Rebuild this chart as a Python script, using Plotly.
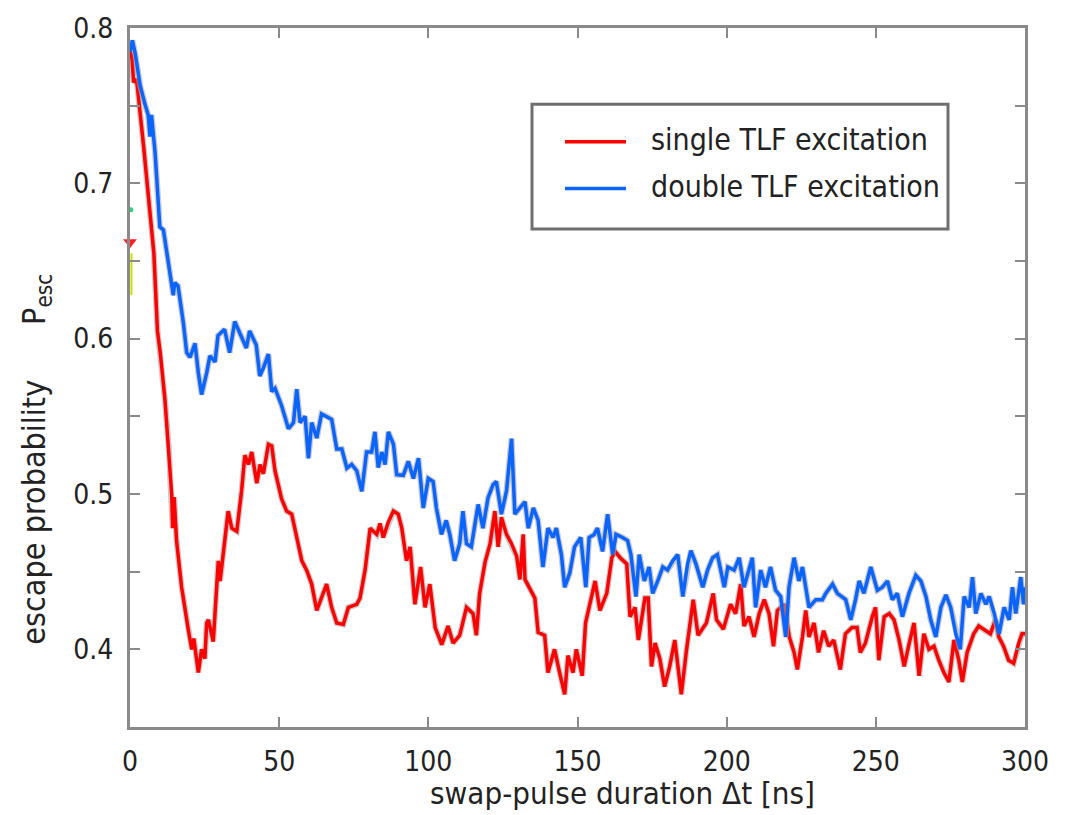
import plotly.graph_objects as go

# ---------------- data ----------------
single_t = [0, 0.7, 1.2, 2.2, 4.5, 6.5, 8.0, 9.2, 10.2, 11.7, 13.0, 13.97, 14.3, 14.8, 15.6, 17.3, 19.55, 20.7, 21.4, 22.9,
            24.0, 25.1, 25.7, 26.3, 27.9, 29.6, 30.2, 31.1, 32.9, 34.1, 35.8, 37.4, 38.5, 39.7, 40.8, 42.5, 43.6, 44.7, 46.4, 47.5,
            48.6, 50.8, 52.5, 54.2, 57.6, 59.2, 60.9, 62.6, 65.9, 67.6, 69.3, 71.5, 73.2, 76.0, 77.1, 78.8, 80.5, 82.7, 83.8, 84.9,
            86.6, 88.3, 89.9, 91.1, 92.7, 93.9, 95.5, 97.4, 98.9, 100.5, 102.3, 104.5, 106.6, 108.3, 110.5, 112.8, 115.0, 116.1, 117.2, 119.0,
            120.7, 122.3, 123.4, 124.5, 126.2, 127.9, 129.6, 130.7, 131.8, 132.4, 133.5, 135.7, 136.8, 139.0, 140.1, 142.3, 144.0, 145.7, 146.8, 148.5,
            149.6, 151.6, 152.7, 155.9, 157.5, 159.8, 161.5, 162.6, 164.3, 166.5, 167.6, 169.3, 170.4, 172.6, 173.7, 174.8, 176.0, 177.6, 179.2, 180.9,
            182.6, 184.8, 186.5, 188.8, 190.4, 193.2, 195.5, 196.6, 198.9, 201.3, 203.0, 204.7, 205.8, 207.5, 209.2, 210.9, 212.6, 214.2, 215.7, 217.0,
            219.3, 221.0, 222.6, 223.7, 225.4, 226.5, 227.6, 229.3, 230.8, 232.5, 234.2, 235.9, 238.1, 239.8, 242.0, 243.7, 244.8, 246.5, 248.8, 249.9,
            251.0, 252.8, 254.5, 256.1, 257.8, 259.5, 261.2, 262.8, 264.5, 266.1, 267.8, 269.5, 271.1, 272.8, 274.5, 276.2, 277.8, 279.0, 280.6, 282.8,
            284.5, 286.7, 288.4, 290.1, 291.2, 292.8, 294.5, 296.2, 297.9, 299.0, 300.0]
single_p = [0.786, 0.780, 0.765, 0.767, 0.725, 0.688, 0.655, 0.605, 0.590, 0.561, 0.530, 0.500, 0.478, 0.498, 0.470, 0.440, 0.4125, 0.400, 0.407, 0.385,
            0.400, 0.394, 0.417, 0.419, 0.405, 0.457, 0.444, 0.460, 0.489, 0.478, 0.476, 0.502, 0.525, 0.519, 0.527, 0.507, 0.519, 0.513, 0.532, 0.531,
            0.515, 0.497, 0.489, 0.487, 0.457, 0.451, 0.442, 0.425, 0.442, 0.427, 0.417, 0.416, 0.427, 0.429, 0.433, 0.451, 0.478, 0.474, 0.481, 0.472,
            0.482, 0.489, 0.487, 0.478, 0.457, 0.466, 0.429, 0.453, 0.427, 0.442, 0.414, 0.403, 0.415, 0.404, 0.409, 0.427, 0.423, 0.409, 0.436, 0.456,
            0.468, 0.489, 0.466, 0.485, 0.474, 0.468, 0.460, 0.445, 0.474, 0.445, 0.441, 0.433, 0.411, 0.409, 0.385, 0.400, 0.385, 0.371, 0.396, 0.385,
            0.400, 0.383, 0.417, 0.444, 0.425, 0.436, 0.459, 0.463, 0.459, 0.455, 0.421, 0.427, 0.406, 0.433, 0.433, 0.389, 0.404, 0.394, 0.376, 0.389,
            0.406, 0.371, 0.399, 0.432, 0.409, 0.417, 0.436, 0.419, 0.413, 0.429, 0.423, 0.442, 0.415, 0.421, 0.408, 0.423, 0.432, 0.423, 0.402, 0.425,
            0.429, 0.408, 0.398, 0.387, 0.408, 0.425, 0.408, 0.417, 0.398, 0.412, 0.402, 0.406, 0.387, 0.410, 0.414, 0.414, 0.398, 0.404, 0.421, 0.427,
            0.393, 0.421, 0.423, 0.419, 0.406, 0.389, 0.404, 0.417, 0.383, 0.410, 0.400, 0.402, 0.393, 0.385, 0.379, 0.406, 0.393, 0.379, 0.398, 0.410,
            0.415, 0.412, 0.410, 0.419, 0.408, 0.402, 0.393, 0.391, 0.404, 0.410, 0.410]

double_t = [0, 0.8, 1.7, 3.4, 5.0, 6.1, 6.7, 7.2, 8.4, 10.0, 11.2, 13.4, 14.5, 15.0, 16.1, 17.9, 19.0, 20.1, 21.8, 22.9,
            24.0, 25.7, 26.8, 28.5, 29.5, 31.7, 33.4, 35.1, 37.3, 39.0, 40.1, 42.3, 43.5, 44.7, 46.4, 47.5, 48.6, 50.8, 53.1, 54.8,
            55.9, 57.0, 58.7, 59.8, 60.9, 62.6, 64.2, 65.9, 67.6, 69.3, 71.0, 72.7, 74.3, 76.0, 77.7, 79.3, 81.0, 82.1, 83.2, 84.4,
            85.5, 86.6, 88.3, 89.4, 91.6, 93.3, 95.0, 96.7, 98.3, 100.0, 101.6, 102.7, 104.4, 106.0, 107.2, 108.8, 110.5, 111.6, 112.8, 114.4,
            116.7, 118.3, 120.0, 121.7, 122.8, 124.5, 126.2, 127.9, 129.0, 130.7, 132.4, 133.5, 135.2, 136.8, 138.4, 140.1, 141.8, 142.9, 144.6, 145.7,
            147.4, 149.0, 151.1, 152.8, 153.9, 155.6, 156.7, 158.4, 160.1, 161.8, 162.9, 165.1, 166.8, 167.9, 169.6, 170.7, 172.4, 174.0, 175.2, 176.9,
            178.6, 180.2, 181.9, 183.6, 185.3, 186.9, 188.0, 189.7, 192.0, 193.6, 195.3, 196.9, 199.2, 200.4, 202.5, 204.2, 205.8, 208.6, 209.7, 211.4,
            213.0, 214.7, 216.4, 218.1, 219.8, 220.9, 222.6, 224.2, 225.4, 227.6, 229.9, 232.1, 233.2, 235.5, 237.1, 239.9, 241.6, 243.2, 244.4, 246.0,
            248.3, 250.5, 252.2, 253.9, 255.5, 257.2, 258.9, 261.1, 263.4, 265.1, 266.8, 268.4, 270.1, 271.8, 273.5, 275.1, 276.8, 278.3, 279.6, 281.3,
            282.4, 283.5, 285.2, 286.9, 288.0, 289.7, 291.3, 293.0, 294.7, 295.8, 296.9, 298.6, 299.5, 300.0]
double_p = [0.785, 0.792, 0.784, 0.763, 0.751, 0.744, 0.730, 0.744, 0.720, 0.672, 0.670, 0.640, 0.628, 0.636, 0.634, 0.610, 0.591, 0.588, 0.597, 0.578,
            0.564, 0.578, 0.589, 0.585, 0.602, 0.606, 0.591, 0.611, 0.602, 0.594, 0.605, 0.596, 0.576, 0.581, 0.590, 0.566, 0.568, 0.557, 0.542, 0.546,
            0.5675, 0.546, 0.550, 0.523, 0.546, 0.536, 0.5516, 0.550, 0.548, 0.529, 0.529, 0.5166, 0.519, 0.515, 0.5017, 0.527, 0.527, 0.540, 0.517, 0.527,
            0.519, 0.540, 0.532, 0.5124, 0.512, 0.521, 0.510, 0.523, 0.491, 0.510, 0.508, 0.491, 0.474, 0.483, 0.474, 0.457, 0.468, 0.489, 0.468, 0.466,
            0.4933, 0.478, 0.4975, 0.506, 0.508, 0.487, 0.502, 0.5357, 0.487, 0.491, 0.495, 0.478, 0.491, 0.483, 0.453, 0.478, 0.472, 0.478, 0.461, 0.440,
            0.449, 0.466, 0.472, 0.440, 0.472, 0.474, 0.478, 0.463, 0.487, 0.461, 0.474, 0.472, 0.470, 0.461, 0.434, 0.461, 0.444, 0.453, 0.436, 0.444,
            0.453, 0.451, 0.457, 0.461, 0.434, 0.455, 0.4635, 0.455, 0.440, 0.451, 0.459, 0.461, 0.440, 0.453, 0.451, 0.459, 0.440, 0.459, 0.427, 0.451,
            0.440, 0.453, 0.438, 0.434, 0.408, 0.440, 0.459, 0.444, 0.453, 0.427, 0.432, 0.432, 0.436, 0.442, 0.436, 0.432, 0.419, 0.432, 0.444, 0.436,
            0.453, 0.438, 0.440, 0.444, 0.432, 0.436, 0.421, 0.436, 0.4476, 0.444, 0.434, 0.419, 0.408, 0.427, 0.435, 0.427, 0.410, 0.400, 0.434, 0.427,
            0.4465, 0.423, 0.436, 0.429, 0.434, 0.423, 0.410, 0.427, 0.419, 0.440, 0.423, 0.4465, 0.429, 0.440]

series_names = ["single TLF excitation", "double TLF excitation"]
series_colors = ["#ff0000", "#0a64ff"]

x_ticks = [0, 50, 100, 150, 200, 250, 300]
y_ticks = [0.4, 0.5, 0.6, 0.7, 0.8]
y_ticktext = ["0.4", "0.5", "0.6", "0.7", "0.8"]
y_minor_ticks = [0.35, 0.45, 0.55, 0.65, 0.75]

# small marker artifacts at the left axis of the original figure
art_tri_t, art_tri_p = [0.0], [0.662]
art_dot_t, art_dot_p = [0.3], [0.683]
art_bar_t, art_bar_p = [0.5, 0.5], [0.655, 0.628]

FONT = "Liberation Sans Narrow, DejaVu Sans Condensed, Arial Narrow, sans-serif"
TXT = "#222222"
AX = "#8a8a8a"

fig = go.Figure()
for t, p, name, col in [(single_t, single_p, series_names[0], series_colors[0]),
                        (double_t, double_p, series_names[1], series_colors[1])]:
    fig.add_trace(go.Scatter(x=t, y=p, mode="lines", line=dict(color="rgba(165,165,165,0.6)", width=6),
                             showlegend=False, hoverinfo="skip"))
    fig.add_trace(go.Scatter(x=t, y=p, mode="lines", name=name, line=dict(color=col, width=3.5),
                             showlegend=False))

fig.add_trace(go.Scatter(x=art_bar_t, y=art_bar_p, mode="lines", line=dict(color="#c8e000", width=2),
                         showlegend=False, hoverinfo="skip", cliponaxis=False))
fig.add_trace(go.Scatter(x=art_dot_t, y=art_dot_p, mode="markers", marker=dict(color="#30d080", size=5, symbol="circle"),
                         showlegend=False, hoverinfo="skip", cliponaxis=False))
fig.add_trace(go.Scatter(x=art_tri_t, y=art_tri_p, mode="markers", marker=dict(color="#ff2020", size=12, symbol="triangle-down"),
                         showlegend=False, hoverinfo="skip", cliponaxis=False))

L, R, T, B = 130, 41, 21, 88
W, H = 1066, 815
pw, ph = W - L - R, H - T - B


def px(xp):
    return (xp - L) / pw


def py(yp):
    return 1 - (yp - T) / ph


shapes = [
    dict(type="rect", xref="paper", yref="paper", x0=px(532), x1=px(948), y0=py(224), y1=py(98),
         line=dict(color="#6e6e6e", width=3), fillcolor="white", layer="above"),
    dict(type="line", xref="paper", yref="paper", x0=px(565), x1=px(626), y0=py(136), y1=py(136),
         line=dict(color=series_colors[0], width=3.5), layer="above"),
    dict(type="line", xref="paper", yref="paper", x0=px(565), x1=px(626), y0=py(183), y1=py(183),
         line=dict(color=series_colors[1], width=3.5), layer="above"),
]

annotations = [
    dict(text=series_names[0], xref="paper", yref="paper", x=px(649), y=py(134), xanchor="left", yanchor="middle",
         showarrow=False, font=dict(family=FONT, size=30, color=TXT)),
    dict(text=series_names[1], xref="paper", yref="paper", x=px(649), y=py(181), xanchor="left", yanchor="middle",
         showarrow=False, font=dict(family=FONT, size=30, color=TXT)),
    dict(text="swap-pulse duration \u0394t [ns]", xref="paper", yref="paper", x=px(622), y=py(813),
         xanchor="center", yanchor="bottom", showarrow=False, borderpad=0,
         font=dict(family=FONT, size=31, color=TXT)),
    dict(text="escape probability" + "\u00a0" * 6 + "P<sub>esc</sub>", xref="paper", yref="paper",
         x=px(36), y=py(457), xanchor="center", yanchor="middle", textangle=-90, showarrow=False,
         font=dict(family=FONT, size=32, color=TXT)),
]

fig.update_layout(
    width=W, height=H,
    margin=dict(l=L, r=R, t=T, b=B),
    paper_bgcolor="white", plot_bgcolor="white",
    showlegend=False,
    shapes=shapes, annotations=annotations,
    font=dict(family=FONT, size=28, color=TXT),
)
fig.update_xaxes(range=[0, 300], tickvals=x_ticks, ticks="inside", ticklen=10, tickwidth=2, tickcolor=AX,
                 showline=True, linecolor=AX, linewidth=3, mirror="ticks", showgrid=False, zeroline=False,
                 tickfont=dict(family=FONT, size=28, color=TXT), ticklabelstandoff=7)
fig.update_yaxes(range=[0.35, 0.8], tickvals=y_ticks, ticktext=y_ticktext, ticks="inside", ticklen=10, tickwidth=2,
                 tickcolor=AX, showline=True, linecolor=AX, linewidth=3, mirror="ticks", showgrid=False, zeroline=False,
                 minor=dict(tickvals=y_minor_ticks, ticks="inside", ticklen=10, tickwidth=2, tickcolor=AX),
                 tickfont=dict(family=FONT, size=28, color=TXT), ticklabelstandoff=8)

fig.write_html("out.html")
